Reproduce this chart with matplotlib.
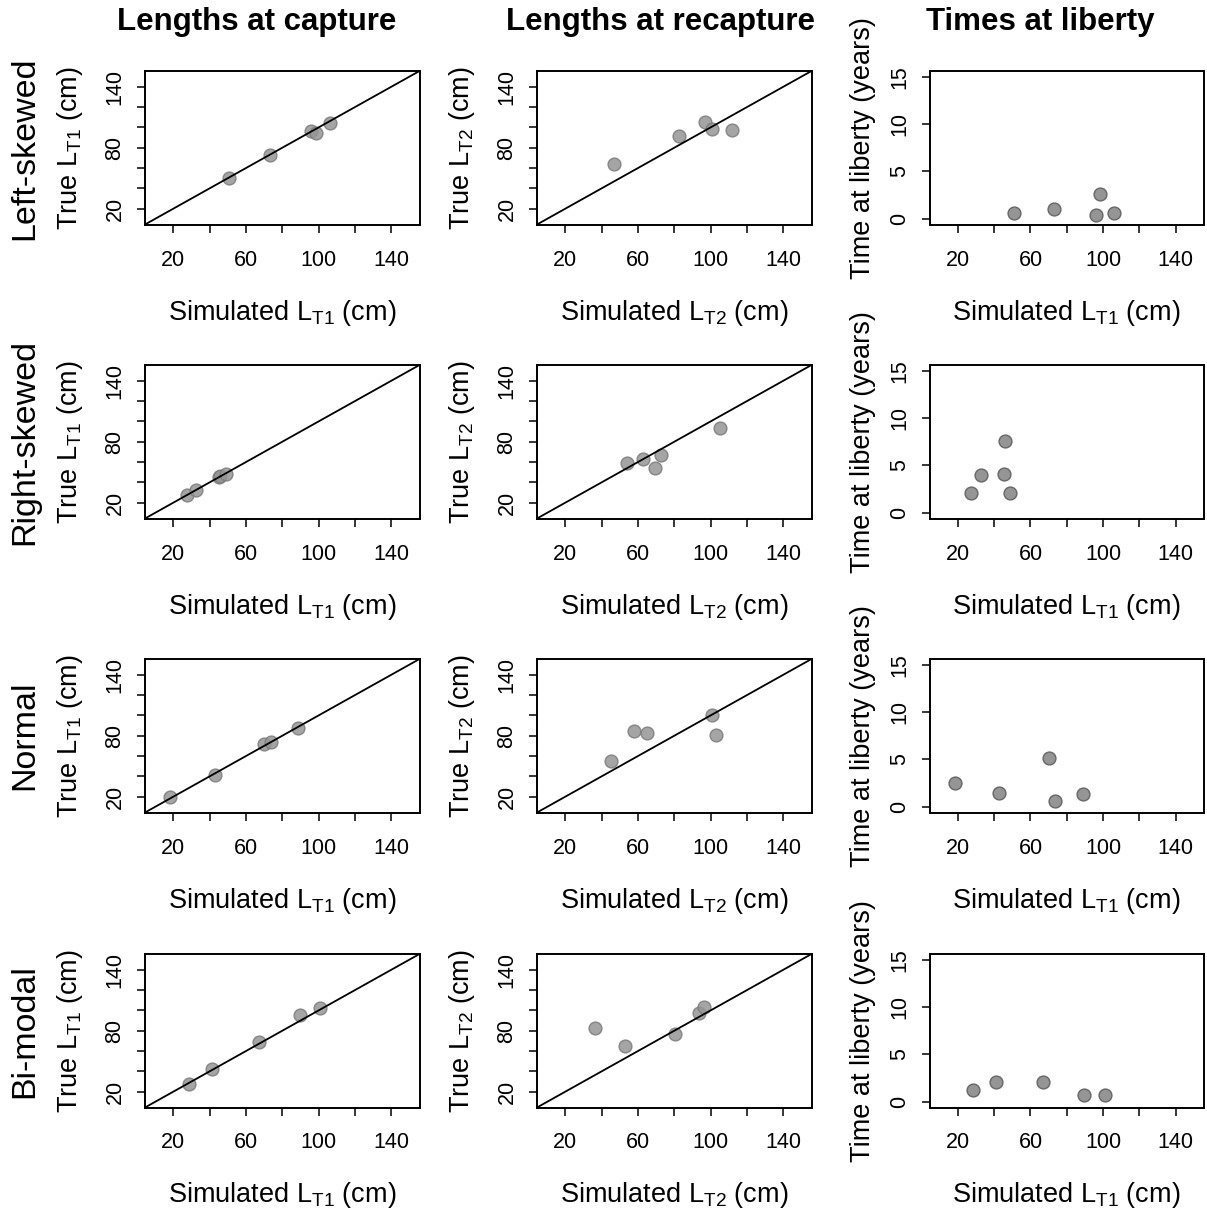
import numpy as np
import matplotlib
matplotlib.use("Agg")
import matplotlib.pyplot as plt

plt.rcParams['font.family'] = ['Liberation Sans', 'DejaVu Sans']
plt.rcParams['mathtext.fontset'] = 'custom'
plt.rcParams['mathtext.rm'] = 'Liberation Sans'

scenarios = ["Left-skewed", "Right-skewed", "Normal", "Bi-modal"]
col_titles = ["Lengths at capture", "Lengths at recapture", "Times at liberty"]

# simulated vs true lengths at capture (L_T1)
sim_LT1 = [[50.7, 73.2, 95.9, 98.5, 106.3],
           [27.4, 32.7, 45.2, 45.9, 48.9],
           [18.2, 42.8, 70.0, 73.8, 88.9],
           [28.5, 41.3, 67.1, 89.6, 101.0]]
true_LT1 = [[50.1, 73.0, 96.8, 94.6, 104.7],
            [27.6, 32.2, 45.4, 46.3, 48.4],
            [19.7, 41.8, 71.8, 73.7, 87.3],
            [27.3, 42.4, 68.5, 95.5, 102.1]]
# simulated vs true lengths at recapture (L_T2)
sim_LT2 = [[46.7, 82.7, 97.0, 100.9, 111.9],
           [54.0, 62.8, 69.4, 72.9, 105.3],
           [45.4, 57.9, 65.1, 100.9, 102.9],
           [36.2, 52.9, 80.5, 93.7, 96.3]]
true_LT2 = [[64.1, 91.6, 105.7, 98.8, 97.5],
            [59.2, 63.5, 54.0, 67.1, 93.5],
            [55.3, 85.0, 82.3, 100.8, 80.3],
            [82.3, 65.2, 76.7, 97.1, 103.4]]
# time at liberty (years)
time_lib = [[0.6, 1.0, 0.35, 2.6, 0.6],
            [2.08, 3.95, 4.06, 7.6, 2.08],
            [2.5, 1.44, 5.1, 0.6, 1.37],
            [1.2, 2.04, 2.1, 0.67, 0.74]]

len_ticks = [20, 40, 60, 80, 100, 120, 140]
x_labels = ["20", "", "60", "", "100", "", "140"]
y_labels = ["20", "", "", "80", "", "", "140"]
time_ticks = [0, 5, 10, 15]

W, H = 1207, 1213
fig = plt.figure(figsize=(W / 100, H / 100), dpi=100)

row_top = [71, 365, 659, 954]
col_left = [145, 537, 929.5]
aw, ah = 274.5, 153.5
lab_fs = 19.5

def style(ax):
    for s in ax.spines.values():
        s.set_linewidth(1.4)
    ax.tick_params(direction='out', length=6, width=1.1, labelsize=15.5)
    ax.tick_params(axis='x', pad=12)
    ax.tick_params(axis='y', pad=8, labelrotation=90)
    for lab in ax.get_yticklabels():
        lab.set_va('center')
    ax.set_xlim(4.4, 155.6)
    ax.set_xticks(len_ticks)
    ax.set_xticklabels(x_labels)

for r in range(4):
    for c in range(3):
        left = col_left[c] / W
        bottom = 1 - (row_top[r] + ah) / H
        ax = fig.add_axes([left, bottom, aw / W, ah / H])
        if c < 2:
            xs = sim_LT1[r] if c == 0 else sim_LT2[r]
            ys = true_LT1[r] if c == 0 else true_LT2[r]
            ax.scatter(xs, ys, s=85, facecolor='#959595', edgecolor='#7a7a7a',
                       linewidth=1.0, alpha=0.85, zorder=2)
            ax.axline((0, 0), slope=1, color='black', lw=1.3, zorder=3)
            ax.set_ylim(4.4, 155.6)
            ax.set_yticks(len_ticks)
            ax.set_yticklabels(y_labels)
            sub = 'T1' if c == 0 else 'T2'
            ax.set_ylabel(r'True $\mathregular{L_{%s}}$ (cm)' % sub, fontsize=lab_fs, va='center')
            ax.yaxis.set_label_coords(-75 / aw, 0.5)
            ax.set_xlabel(r'Simulated $\mathregular{L_{%s}}$ (cm)' % sub, fontsize=lab_fs, va='center')
        else:
            ax.scatter(sim_LT1[r], time_lib[r], s=85, facecolor='#959595',
                       edgecolor='#666666', linewidth=1.0, zorder=2)
            ax.set_ylim(-0.6, 15.6)
            ax.set_yticks(time_ticks)
            ax.set_yticklabels([str(t) for t in time_ticks])
            ax.set_ylabel('Time at liberty (years)', fontsize=lab_fs, va='center')
            ax.yaxis.set_label_coords(-66 / aw, 0.5)
            ax.set_xlabel(r'Simulated $\mathregular{L_{T1}}$ (cm)', fontsize=lab_fs, va='center')
        ax.xaxis.set_label_coords(0.5, -88 / ah)
        style(ax)
    fig.text(25 / W, 1 - (row_top[r] + ah / 2) / H, scenarios[r], rotation=90,
             ha='center', va='center', fontsize=24.5)

title_x = [257, 661, 1040]
for c in range(3):
    fig.text(title_x[c] / W, 1 - 22 / H, col_titles[c], ha='center', va='center',
             fontsize=22.5, fontweight='bold')

fig.savefig('out.png', dpi=100)
